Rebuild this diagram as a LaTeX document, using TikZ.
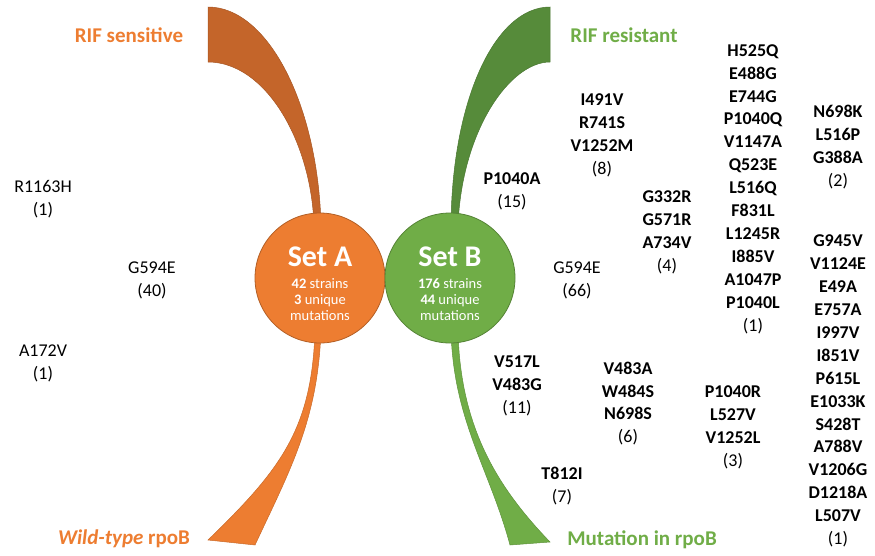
\documentclass[tikz,border=0pt]{standalone}
\usepackage{fontspec}
\setmainfont{Carlito}
\usepackage{tikz}
\usetikzlibrary{positioning}
\definecolor{setorange}{RGB}{237,125,49}
\definecolor{darkorange}{RGB}{196,101,42}
\definecolor{setgreen}{RGB}{112,173,71}
\definecolor{darkgreen}{RGB}{86,139,58}

\begin{document}
\begin{tikzpicture}[
    x=1pt, y=-1pt,
    setcircle/.style={circle, draw, line width=0.8pt, minimum size=130pt, inner sep=0pt},
    settitle/.style={text=white, font=\fontsize{30}{31}\selectfont\bfseries},
    setinfo/.style={text=white, align=center, font=\fontsize{14.5}{16}\selectfont},
    heading/.style={anchor=base, font=\fontsize{21}{24}\selectfont\bfseries},
    mutation/.style={align=center, font=\fontsize{18}{22.9}\selectfont\bfseries},
    plainmut/.style={align=center, font=\fontsize{18}{22.9}\selectfont},
    ribbon/.style={line width=0.5pt}
]
\useasboundingbox (0,0) rectangle (875,555);

\filldraw[ribbon, fill=darkorange, draw=darkorange!85!black] (208,7) .. controls (268,7) and (318,105) .. (321,225)
    -- (314,225) .. controls (311,140) and (265,62) .. (208,62) -- cycle;
\filldraw[ribbon, fill=darkgreen, draw=darkgreen!85!black] (550,7) .. controls (495,7) and (452,100) .. (451,225)
    -- (458,225) .. controls (462,130) and (510,62) .. (550,62) -- cycle;
\filldraw[ribbon, fill=setorange, draw=setorange!85!black] (315,330) .. controls (312,430) and (280,470) .. (208,540)
    -- (255,545) .. controls (290,470) and (318,420) .. (321,330) -- cycle;
\filldraw[ribbon, fill=setgreen, draw=setgreen!85!black] (451,330) .. controls (453,420) and (490,470) .. (510,545)
    -- (550,542) .. controls (500,490) and (460,430) .. (458,330) -- cycle;

\node[setcircle, fill=setorange, draw=setorange!75!black] (setA) at (320,278) {};
\node[setcircle, fill=setgreen, draw=setgreen!75!black] (setB) at (450,278) {};
\node[settitle] (setAtitle) at (320,257) {Set A};
\node[settitle] (setBtitle) at (450,257) {Set B};
\node[setinfo] (setAinfo) at (320,300) {\textbf{42} strains\\\textbf{3} unique\\mutations};
\node[setinfo] (setBinfo) at (450,300) {\textbf{176} strains\\\textbf{44} unique\\mutations};

\node[heading, text=setorange] (sensitive) at (129,42) {RIF sensitive};
\node[heading, text=setgreen] (resistant) at (624,42) {RIF resistant};
\node[heading, text=setorange] (wildtype) at (124,544) {\textit{Wild-type} rpoB};
\node[heading, text=setgreen] (mutated) at (642,545) {Mutation in rpoB};

\node[plainmut] (r1163h) at (43,199) {R1163H\\(1)};
\node[plainmut] (g594eA) at (152,280.5) {G594E\\(40)};
\node[plainmut] (a172v) at (43,363.5) {A172V\\(1)};

\node[mutation] (i491v) at (602,135) {I491V\\R741S\\V1252M\\\mdseries(8)};
\node[mutation] (p1040a) at (512,191) {P1040A\\\mdseries(15)};
\node[plainmut] (g594eB) at (577,280) {G594E\\(66)};
\node[mutation] (g332r) at (667,232.5) {G332R\\G571R\\A734V\\\mdseries(4)};
\node[mutation] (h525q) at (753,189) {H525Q\\E488G\\E744G\\P1040Q\\V1147A\\Q523E\\L516Q\\F831L\\L1245R\\I885V\\A1047P\\P1040L\\\mdseries(1)};
\node[mutation] (n698k) at (838,147) {N698K\\L516P\\G388A\\\mdseries(2)};
\node[mutation] (g945v) at (838,391) {G945V\\V1124E\\E49A\\E757A\\I997V\\I851V\\P615L\\E1033K\\S428T\\A788V\\V1206G\\D1218A\\L507V\\\mdseries(1)};
\node[mutation] (v517l) at (517,385.5) {V517L\\V483G\\\mdseries(11)};
\node[mutation] (v483a) at (628,403.5) {V483A\\W484S\\N698S\\\mdseries(6)};
\node[mutation] (p1040r) at (733,427) {P1040R\\L527V\\V1252L\\\mdseries(3)};
\node[mutation] (t812i) at (562,486) {T812I\\\mdseries(7)};

\end{tikzpicture}
\end{document}
